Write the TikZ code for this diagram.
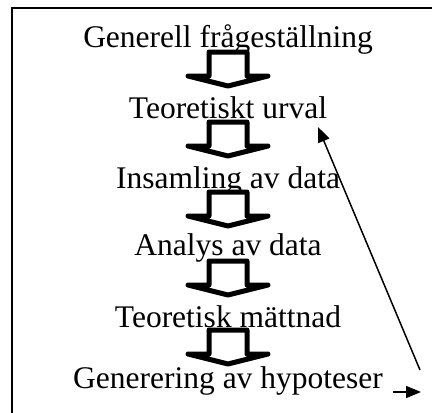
\documentclass[tikz,border=0pt]{standalone}
\usepackage{fontspec}
\setmainfont{Liberation Serif}
\usetikzlibrary{arrows.meta}

\tikzset{
  steg/.style={anchor=base, inner sep=10pt, font=\fontsize{31.5}{36}\selectfont},
  blockpil/.pic={
    \draw[line width=5pt, line join=round, line cap=round, fill=white]
      (-19,0) -- (-19,24) -- (-40,24) -- (0,34) -- (40,24) -- (19,24) -- (19,0) -- cycle;
  },
  pil/.style={-{Triangle[length=15pt,width=12pt]}, line width=1.5pt},
}

\begin{document}
\begin{tikzpicture}[x=1pt, y=-1pt]
\useasboundingbox (0,0) rectangle (432,413);
% ram
\draw[line width=2.5pt] (12,413) -- (12,8) -- (432,8);

\node[steg] (Generell)   at (228,47)  {Generell frågeställning};
\node[steg] (Urval)      at (228,118) {Teoretiskt urval};
\node[steg] (Insamling)  at (228,188) {Insamling av data};
\node[steg] (Analys)     at (228,255) {Analys av data};
\node[steg] (Maettnad)   at (228,327) {Teoretisk mättnad};
\node[steg] (Generering) at (228,388) {Generering av hypoteser};

% blockpilar
\pic at ([yshift=-5pt]Generell.base)  {blockpil};
\pic at ([yshift=-4pt]Urval.base)     {blockpil};
\pic at ([yshift=-4pt]Insamling.base) {blockpil};
\pic at ([yshift=-6pt]Analys.base)    {blockpil};
\pic at ([yshift=-3pt]Maettnad.base)  {blockpil};

% tillbaka till urvalet
\coordinate (Ut)  at (421,392);
\coordinate (Bak) at (420,370);
\coordinate (Mal) at (318,127);
\draw[pil] ([yshift=-4pt]Generering.base east) -- (Ut);
\draw[pil] (Bak) -- (Mal);

\end{tikzpicture}
\end{document}
